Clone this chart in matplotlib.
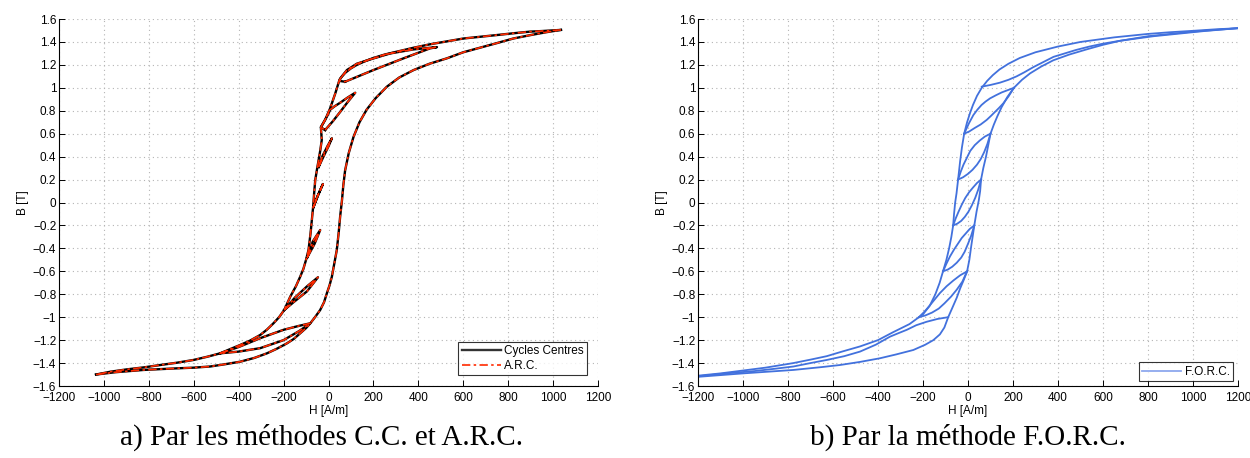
import matplotlib
matplotlib.use("Agg")
import matplotlib.pyplot as plt
from matplotlib.lines import Line2D
from matplotlib.ticker import MultipleLocator, FuncFormatter

# ---------------- Left panel data (Cycles Centres / A.R.C.) ----------------
cc_upper_H = [1035, 950, 898, 820, 749, 675, 601, 527, 453, 380, 304, 250, 200, 160, 126, 100,
              74, 60, 49, 30, 7, -15, -34, -30, -37, -44, -52, -59, -64, -68, -74, -80, -89,
              -100, -112, -126, -145, -170, -197, -220, -245, -275, -304, -350, -393, -440,
              -482, -540, -601, -675, -749, -820, -898, -970, -1035]
cc_upper_B = [1.505, 1.495, 1.49, 1.475, 1.46, 1.445, 1.43, 1.405, 1.38, 1.35, 1.315, 1.29,
              1.26, 1.23, 1.20, 1.17, 1.13, 1.10, 1.07, 0.95, 0.82, 0.72, 0.656, 0.545, 0.45,
              0.37, 0.28, 0.196, 0.08, -0.03, -0.15, -0.27, -0.414, -0.50, -0.58, -0.647, -0.73,
              -0.82, -0.937, -1.0, -1.053, -1.11, -1.155, -1.205, -1.242, -1.28, -1.315, -1.345,
              -1.373, -1.397, -1.417, -1.437, -1.455, -1.475, -1.50]
cc_lower_H = [-1035, -950, -824, -750, -675, -600, -527, -460, -393, -330, -274, -230, -185,
              -155, -126, -100, -81, -60, -37, -20, -7, 5, 15, 26, 37, 45, 52, 56, 60, 66, 74,
              90, 111, 138, 170, 210, 260, 315, 379, 450, 527, 600, 675, 750, 823, 900, 970, 1035]
cc_lower_B = [-1.50, -1.48, -1.46, -1.453, -1.446, -1.44, -1.43, -1.41, -1.388, -1.355, -1.315,
              -1.275, -1.228, -1.19, -1.14, -1.095, -1.053, -1.0, -0.937, -0.87, -0.79, -0.72,
              -0.647, -0.53, -0.414, -0.27, -0.12, -0.05, 0.02, 0.15, 0.28, 0.43, 0.57, 0.70,
              0.81, 0.91, 1.01, 1.09, 1.155, 1.21, 1.257, 1.31, 1.35, 1.39, 1.43, 1.46, 1.485,
              1.505]
loopA_H = [74, 200, 334, 452, 483, 379, 275, 186, 126, 82, 52, 49, 74]
loopA_B = [1.053, 1.155, 1.257, 1.344, 1.355, 1.335, 1.30, 1.248, 1.21, 1.155, 1.08, 1.06, 1.053]
loopB_H = [-15, 20, 52, 85, 119, 85, 52, 28, 8, -7, -34, -15]
loopB_B = [0.632, 0.71, 0.79, 0.875, 0.957, 0.915, 0.87, 0.84, 0.81, 0.75, 0.656, 0.632]
loopC_H = [-44, -20, 0, 15, -5, -28, -44]
loopC_B = [0.31, 0.41, 0.49, 0.56, 0.49, 0.40, 0.31]
loopD_H = [-67, -45, -25, -50, -67]
loopD_B = [-0.04, 0.07, 0.161, 0.05, -0.04]
loopE_H = [-95, -62, -37, -70, -95]
loopE_B = [-0.48, -0.36, -0.24, -0.34, -0.48]
loopF_H = [-197, -156, -96, -47, -95, -150, -197]
loopF_B = [-0.937, -0.87, -0.775, -0.652, -0.73, -0.83, -0.937]
loopG_H = [-482, -400, -300, -200, -130, -81, -130, -200, -304, -400, -482]
loopG_B = [-1.315, -1.26, -1.18, -1.11, -1.075, -1.053, -1.12, -1.20, -1.27, -1.30, -1.315]

# ---------------- Right panel data (F.O.R.C.) ----------------
forc_desc_H = [1200, 1100, 1000, 900, 800, 650, 500, 400, 300, 230, 180, 140, 110, 85, 61, 40,
               22, 9, -4, -17, -27, -35, -44, -51, -57, -62, -66, -74, -84, -96, -111, -126,
               -145, -170, -200, -218, -260, -332, -400, -480, -560, -628, -700, -776, -900,
               -1000, -1100, -1200]
forc_desc_B = [1.52, 1.51, 1.497, 1.485, 1.47, 1.44, 1.40, 1.36, 1.31, 1.26, 1.21, 1.16, 1.11,
               1.06, 1.0, 0.93, 0.85, 0.78, 0.70, 0.60, 0.48, 0.36, 0.20, 0.08, 0.0, -0.10,
               -0.20, -0.30, -0.40, -0.50, -0.60, -0.70, -0.80, -0.90, -0.975, -1.0, -1.06,
               -1.13, -1.20, -1.255, -1.30, -1.34, -1.37, -1.40, -1.44, -1.465, -1.49, -1.51]
forc_asc_H = [-1200, -1000, -850, -776, -650, -569, -480, -391, -320, -243, -190, -154, -125,
              -105, -88, -70, -50, -35, -20, -4, 6, 14, 22, 28, 38, 48, 54, 58, 68, 80, 90, 100,
              115, 130, 149, 175, 204, 240, 276, 325, 379, 450, 527, 600, 676, 800, 900, 1000,
              1100, 1200]
forc_asc_B = [-1.52, -1.49, -1.47, -1.46, -1.435, -1.417, -1.39, -1.358, -1.325, -1.286, -1.24,
              -1.2, -1.15, -1.09, -1.0, -0.92, -0.83, -0.75, -0.68, -0.60, -0.50, -0.385, -0.28,
              -0.20, -0.08, 0.02, 0.10, 0.20, 0.30, 0.40, 0.50, 0.60, 0.68, 0.75, 0.83, 0.92,
              1.0, 1.07, 1.126, 1.185, 1.24, 1.29, 1.335, 1.375, 1.41, 1.45, 1.47, 1.49, 1.505,
              1.52]
leaf1_up_H = [-218, -195, -175, -150, -125, -95, -65, -35, -4]
leaf1_up_B = [-1.0, -0.955, -0.91, -0.85, -0.79, -0.73, -0.68, -0.635, -0.6]
leaf1_lo_H = [-218, -190, -160, -130, -105, -75, -50, -25, -4]
leaf1_lo_B = [-1.0, -0.985, -0.96, -0.925, -0.88, -0.82, -0.76, -0.69, -0.6]
leaf2_up_H = [-111, -95, -80, -62, -45, -28, -10, 8, 28]
leaf2_up_B = [-0.6, -0.53, -0.47, -0.41, -0.36, -0.31, -0.27, -0.23, -0.2]
leaf2_lo_H = [-111, -90, -70, -50, -30, -15, 0, 14, 28]
leaf2_lo_B = [-0.6, -0.585, -0.56, -0.525, -0.48, -0.43, -0.36, -0.29, -0.2]
leaf3_up_H = [-66, -55, -42, -28, -12, 5, 22, 40, 58]
leaf3_up_B = [-0.2, -0.14, -0.08, -0.02, 0.04, 0.09, 0.13, 0.17, 0.2]
leaf3_lo_H = [-66, -48, -30, -14, 2, 17, 32, 45, 58]
leaf3_lo_B = [-0.2, -0.185, -0.16, -0.125, -0.08, -0.025, 0.04, 0.11, 0.2]
leaf4_up_H = [-44, -32, -20, -5, 10, 30, 52, 75, 100]
leaf4_up_B = [0.2, 0.27, 0.33, 0.39, 0.45, 0.50, 0.54, 0.575, 0.6]
leaf4_lo_H = [-44, -22, 0, 20, 40, 57, 72, 86, 100]
leaf4_lo_B = [0.2, 0.22, 0.25, 0.285, 0.33, 0.38, 0.44, 0.51, 0.6]
leaf5_up_H = [-17, 4, 24, 42, 60, 78, 98, 124, 150, 177, 204]
leaf5_up_B = [0.6, 0.69, 0.763, 0.81, 0.85, 0.88, 0.908, 0.935, 0.96, 0.98, 1.0]
leaf5_lo_H = [-17, 6, 30, 56, 83, 102, 120, 138, 157, 180, 204]
leaf5_lo_B = [0.6, 0.62, 0.65, 0.68, 0.72, 0.755, 0.79, 0.825, 0.865, 0.925, 1.0]
top_H = [61, 100, 142, 180, 216, 250, 290, 335, 380, 430, 480, 540, 600, 675, 750, 825, 900,
         1050, 1200]
top_B = [1.01, 1.025, 1.045, 1.07, 1.10, 1.135, 1.18, 1.225, 1.27, 1.30, 1.33, 1.36, 1.385,
         1.41, 1.43, 1.45, 1.465, 1.495, 1.52]
bot_H = [-88, -135, -184, -230, -272, -310, -347, -410, -480, -550, -628, -700, -776, -860,
         -950, -1075, -1200]
bot_B = [-1.0, -1.015, -1.04, -1.07, -1.11, -1.14, -1.17, -1.24, -1.30, -1.34, -1.373, -1.40,
         -1.43, -1.45, -1.47, -1.49, -1.515]

x_label = "H [A/m]"
y_label = "B [T]"
caption_a = "a) Par les méthodes C.C. et A.R.C."
caption_b = "b) Par la méthode F.O.R.C."
legend_a = ["Cycles Centres", "A.R.C."]
legend_b = ["F.O.R.C."]

# ---------------- Drawing ----------------
plt.rcParams['font.family'] = ['Liberation Sans', 'DejaVu Sans']
fig = plt.figure(figsize=(12.5, 4.58), dpi=100)
axL = fig.add_axes([0.0472, 0.1572, 0.4312, 0.8013])
axR = fig.add_axes([0.5584, 0.1572, 0.432, 0.8013])


def fmt(v, pos):
    s = "%g" % round(v, 6)
    if s == "-0":
        s = "0"
    return s.replace("-", "\u2212")


def style(ax):
    ax.set_xlim(-1200, 1200)
    ax.set_ylim(-1.6, 1.6)
    ax.xaxis.set_major_locator(MultipleLocator(200))
    ax.yaxis.set_major_locator(MultipleLocator(0.2))
    ax.xaxis.set_major_formatter(FuncFormatter(fmt))
    ax.yaxis.set_major_formatter(FuncFormatter(fmt))
    ax.grid(True, color='#b4b4b4', linestyle=(0, (1, 3)), linewidth=0.8)
    ax.set_axisbelow(True)
    for s in ['top', 'right']:
        ax.spines[s].set_visible(False)
    for s in ['left', 'bottom']:
        ax.spines[s].set_linewidth(0.8)
    ax.tick_params(direction='in', length=4, width=0.7, labelsize=8.5,
                   top=False, right=False)
    ax.tick_params(axis='x', pad=4)
    ax.tick_params(axis='y', pad=2)
    ax.set_xlabel(x_label, fontsize=8.5, labelpad=1)
    ax.set_ylabel(y_label, fontsize=8.5, labelpad=3)


style(axL)
style(axR)

left_curves = [(cc_upper_H, cc_upper_B), (cc_lower_H, cc_lower_B), (loopA_H, loopA_B),
               (loopB_H, loopB_B), (loopC_H, loopC_B), (loopD_H, loopD_B),
               (loopE_H, loopE_B), (loopF_H, loopF_B), (loopG_H, loopG_B)]
for h, b in left_curves:
    axL.plot(h, b, color='black', lw=1.7, solid_joinstyle='round')
for h, b in left_curves:
    axL.plot(h, b, color='#ff2a00', lw=1.2, linestyle=(0, (5, 2, 1.5, 2)))

leg_handles = [Line2D([], [], color='#333333', lw=1.7),
               Line2D([], [], color='#ff2a00', lw=1.2, linestyle=(0, (5, 2, 1.5, 2)))]
lgA = axL.legend(leg_handles, legend_a, loc='lower right', fontsize=8.5, frameon=True,
                 fancybox=False, edgecolor='black', handlelength=3.3, borderpad=0.3,
                 labelspacing=0.2, handletextpad=0.3, borderaxespad=0.9)
lgA.get_frame().set_linewidth(0.8)

blue = '#4271dd'
right_curves = [(forc_desc_H, forc_desc_B), (forc_asc_H, forc_asc_B),
                (leaf1_up_H, leaf1_up_B), (leaf1_lo_H, leaf1_lo_B),
                (leaf2_up_H, leaf2_up_B), (leaf2_lo_H, leaf2_lo_B),
                (leaf3_up_H, leaf3_up_B), (leaf3_lo_H, leaf3_lo_B),
                (leaf4_up_H, leaf4_up_B), (leaf4_lo_H, leaf4_lo_B),
                (leaf5_up_H, leaf5_up_B), (leaf5_lo_H, leaf5_lo_B),
                (top_H, top_B), (bot_H, bot_B)]
for h, b in right_curves:
    axR.plot(h, b, color=blue, lw=1.3, solid_joinstyle='round')

lgB = axR.legend([Line2D([], [], color='#8ea8ee', lw=1.3)], legend_b, loc='lower right',
                 fontsize=8.5, frameon=True, fancybox=False, edgecolor='black',
                 handlelength=3.3, borderpad=0.3, handletextpad=0.3, borderaxespad=0.4)
lgB.get_frame().set_linewidth(0.8)

fig.text(0.257, 0.045, caption_a, ha='center', va='center', fontsize=21,
         family=['Liberation Serif', 'DejaVu Serif'])
fig.text(0.774, 0.045, caption_b, ha='center', va='center', fontsize=21,
         family=['Liberation Serif', 'DejaVu Serif'])

fig.savefig("out.png", dpi=100)
